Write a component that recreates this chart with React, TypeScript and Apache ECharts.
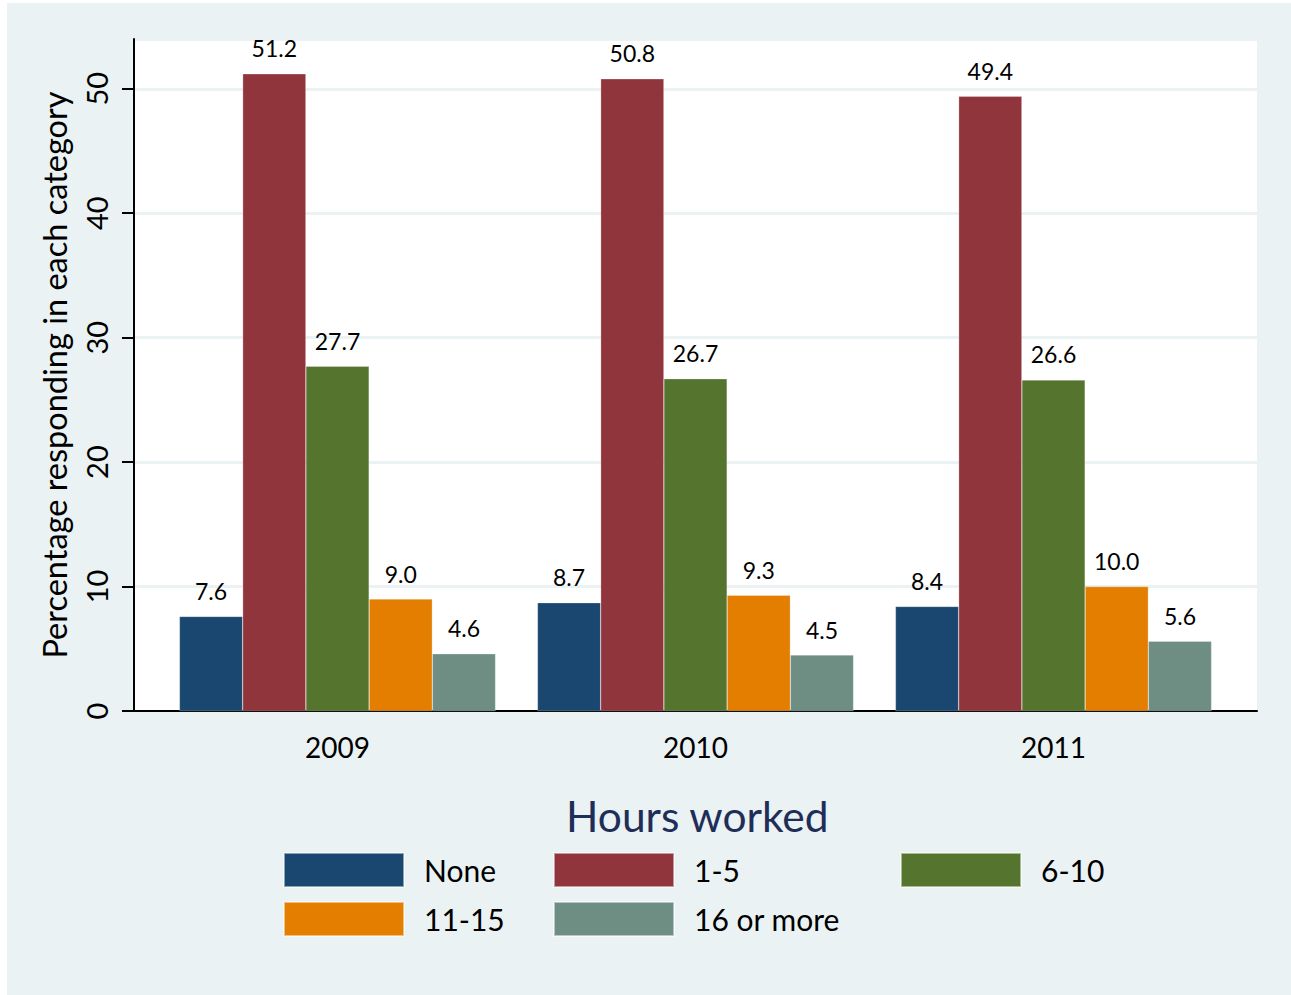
import React, { useEffect, useRef } from "react";
import * as echarts from "echarts";

const years = ["2009", "2010", "2011"];
const seriesNames = ["None", "1-5", "6-10", "11-15", "16 or more"];
const valNone = [7.6, 8.7, 8.4];
const val1to5 = [51.2, 50.8, 49.4];
const val6to10 = [27.7, 26.7, 26.6];
const val11to15 = [9.0, 9.3, 10.0];
const val16plus = [4.6, 4.5, 5.6];
const colors = ["#1A476F", "#90353B", "#55752F", "#E37E00", "#6E8E84"];
const yTicks = { min: 0, max: 54, interval: 10 };

const FONT = "Lato";

export default function App() {
  const ref = useRef<HTMLDivElement>(null);
  useEffect(() => {
    if (!ref.current) return;
    const chart = echarts.init(ref.current, null, { renderer: "svg" });
    const values = [valNone, val1to5, val6to10, val11to15, val16plus];
    const legendPos = [
      { left: 271, top: 844 },
      { left: 541, top: 844 },
      { left: 888, top: 844 },
      { left: 271, top: 893 },
      { left: 541, top: 893 },
    ];
    const inset = 24.5;
    chart.setOption({
      animation: false,
      backgroundColor: "#EAF2F3",
      textStyle: { fontFamily: FONT },
      title: {
        text: "Hours worked",
        left: 554,
        top: 786,
        textStyle: { fontFamily: FONT, fontSize: 42.5, fontWeight: "normal", color: "#1F2E58" },
      },
      legend: seriesNames.map((n, i) => ({
        data: [n],
        left: legendPos[i].left,
        top: legendPos[i].top,
        itemWidth: 120,
        itemHeight: 34,
        itemGap: 0,
        icon: "rect",
        selectedMode: false,
        textStyle: { fontFamily: FONT, fontSize: 30, color: "#000", padding: [0, 0, 0, 15] },
      })),
      grid: [
        { left: 127, right: 34, top: 36, bottom: 284, backgroundColor: "#fff", show: true, borderWidth: 0 },
        { left: 127 + inset, right: 34 + inset, top: 36, bottom: 284, show: false },
      ],
      xAxis: [
        {
          type: "value",
          gridIndex: 0,
          min: 0,
          max: 1,
          axisLine: { show: true, onZero: false, lineStyle: { color: "#000", width: 2 } },
          axisTick: { show: false },
          axisLabel: { show: false },
          splitLine: { show: false },
        },
        {
          type: "category",
          gridIndex: 1,
          data: years,
          axisLine: { show: false },
          axisTick: { show: false },
          axisLabel: { fontFamily: FONT, fontSize: 28, color: "#000", margin: 22 },
        },
      ],
      yAxis: [
        {
          type: "value",
          gridIndex: 0,
          min: yTicks.min,
          max: yTicks.max,
          interval: yTicks.interval,
          name: "Percentage responding in each category",
          nameLocation: "middle",
          nameGap: 63,
          nameTextStyle: { fontFamily: FONT, fontSize: 32.5, color: "#000" },
          axisLine: { show: true, lineStyle: { color: "#000", width: 2 } },
          axisTick: { show: true, length: 12, lineStyle: { color: "#000", width: 2 } },
          axisLabel: {
            rotate: 90,
            fontFamily: FONT,
            fontSize: 29,
            color: "#000",
            margin: 23,
            showMaxLabel: false,
            formatter: (v: number) => (v % yTicks.interval === 0 ? String(v) : ""),
          },
          splitLine: { show: true, lineStyle: { color: "#EAF2F3", width: 3 } },
        },
        {
          type: "value",
          gridIndex: 1,
          min: yTicks.min,
          max: yTicks.max,
          interval: yTicks.interval,
          show: false,
          splitLine: { show: false },
        },
      ],
      series: seriesNames.map((n, i) => ({
        name: n,
        type: "bar",
        xAxisIndex: 1,
        yAxisIndex: 1,
        data: values[i],
        barGap: "0%",
        barCategoryGap: "11.7%",
        itemStyle: { color: colors[i], borderColor: "rgba(255,255,255,0.5)", borderWidth: 0.5 },
        label: {
          show: true,
          position: "top",
          distance: 14,
          formatter: (p: any) => p.value.toFixed(1),
          fontFamily: FONT,
          fontSize: 23,
          color: "#000",
        },
      })),
    });
    return () => chart.dispose();
  }, []);
  return (
    <div
      ref={ref}
      style={{ position: "absolute", left: 7, top: 3, width: 1284, height: 992 }}
    />
  );
}
